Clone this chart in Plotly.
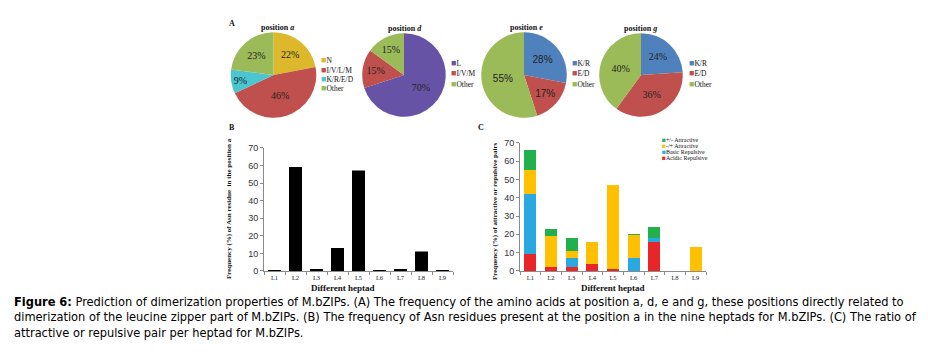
import plotly.graph_objects as go

W, H = 928, 355

# ---------------- data ----------------
pie_a_labels = ["N", "I/V/L/M", "K/R/E/D", "Other"]
pie_a_values = [22, 46, 9, 23]
pie_a_colors = ["#DDB82A", "#C0504D", "#4BC6D0", "#9BBB59"]

pie_d_labels = ["L", "I/V/M", "Other"]
pie_d_values = [70, 15, 15]
pie_d_colors = ["#6753A5", "#C0504D", "#9BBB59"]

pie_e_labels = ["K/R", "E/D", "Other"]
pie_e_values = [28, 17, 55]
pie_e_colors = ["#4F81BD", "#C0504D", "#9BBB59"]

pie_g_labels = ["K/R", "E/D", "Other"]
pie_g_values = [24, 36, 40]
pie_g_colors = ["#4F81BD", "#C0504D", "#9BBB59"]

heptads = ["L1", "L2", "L3", "L4", "L5", "L6", "L7", "L8", "L9"]
asn_freq = [0.3, 59, 1, 13, 57, 0.3, 1, 11, 0.3]

acidic_rep = [9, 2, 2, 4, 1, 0, 16, 0, 0]
basic_rep = [33, 0, 5, 0, 0, 7, 2, 0, 0]
minus_plus_attr = [13, 17, 4, 12, 46, 13, 0, 0, 13]
plus_minus_attr = [11, 4, 7, 0, 0, 0.3, 6, 0, 0]

stack_names = ["Acidic Repulsive", "Basic Repulsive", "-/+ Attractive", "+/- Attractive"]
stack_colors = ["#E8262A", "#29A9E0", "#FFC000", "#21B04B"]

caption_lines = [
    "<b>Figure 6:</b> Prediction of dimerization properties of M.bZIPs. (A) The frequency of the amino acids at position a, d, e and g, these positions directly related to",
    "dimerization of the leucine zipper part of M.bZIPs. (B) The frequency of Asn residues present at the position a in the nine heptads for M.bZIPs. (C) The ratio of",
    "attractive or repulsive pair per heptad for M.bZIPs.",
]

# ---------------- helpers ----------------
def px(x):
    return x / W

def py(y):
    return 1 - y / H

SERIF = "Liberation Serif, Times New Roman, serif"
SANS = "Liberation Sans, Arial, sans-serif"

fig = go.Figure()

pies = [
    (pie_a_labels, pie_a_values, pie_a_colors, 273.5, 72, 44, SERIF),
    (pie_d_labels, pie_d_values, pie_d_colors, 404, 72, 43, SERIF),
    (pie_e_labels, pie_e_values, pie_e_colors, 524, 72, 44, SANS),
    (pie_g_labels, pie_g_values, pie_g_colors, 641, 72, 43, SERIF),
]
for labels, values, colors, cx, cy, r, tf in pies:
    fig.add_trace(go.Pie(
        labels=labels, values=values, sort=False, direction="clockwise", rotation=0,
        marker=dict(colors=colors, line=dict(width=0)),
        texttemplate="%{percent:.0%}", textposition="inside",
        insidetextorientation="horizontal",
        textfont=dict(family=tf, size=10, color="#222"),
        domain=dict(x=[px(cx - r), px(cx + r)], y=[py(cy + r), py(cy - r)]),
        showlegend=False, hoverinfo="label+percent",
    ))

# Bar chart B
fig.add_trace(go.Bar(x=heptads, y=asn_freq, marker=dict(color="#000", line=dict(color="#000", width=0.5)),
                     xaxis="x", yaxis="y", showlegend=False))

# Stacked chart C
for name, vals, col in zip(stack_names, [acidic_rep, basic_rep, minus_plus_attr, plus_minus_attr], stack_colors):
    fig.add_trace(go.Bar(x=heptads, y=vals, name=name, marker=dict(color=col, line=dict(width=0)),
                         xaxis="x2", yaxis="y2", showlegend=False))

axis_common = dict(showline=True, linecolor="#8a8a8a", linewidth=1, showgrid=False, zeroline=False,
                   ticks="outside", tickcolor="#8a8a8a", ticklen=3)
fig.update_layout(
    width=W, height=H, margin=dict(l=0, r=0, t=0, b=0),
    paper_bgcolor="white", plot_bgcolor="white",
    barmode="stack", bargap=0.42,
    xaxis=dict(domain=[px(264), px(453)], anchor="y", tickson="boundaries",
               tickfont=dict(family=SERIF, size=6.5, color="#222"), **axis_common),
    yaxis=dict(domain=[py(273.7), py(147)], anchor="x", range=[0, 70], dtick=10,
               tickfont=dict(family=SANS, size=9, color="#333"), **axis_common),
    xaxis2=dict(domain=[px(520), px(706)], anchor="y2", tickson="boundaries",
                tickfont=dict(family=SERIF, size=6.5, color="#222"), **axis_common),
    yaxis2=dict(domain=[py(273.7), py(141.7)], anchor="x2", range=[0, 70], dtick=10,
                tickfont=dict(family=SANS, size=9, color="#333"), **axis_common),
)

ann = []

def text(x, y, t, size=8, family=SERIF, xanchor="center", angle=0, color="#111"):
    ann.append(dict(x=px(x), y=py(y), xref="paper", yref="paper", text=t, showarrow=False,
                    xanchor=xanchor, yanchor="middle", textangle=angle,
                    font=dict(family=family, size=size, color=color)))

# panel labels
text(232, 19, "<b>A</b>", 8)
text(232, 126, "<b>B</b>", 8)
text(481, 126, "<b>C</b>", 8)

# pie titles
text(277, 23, "<b>position <i>a</i></b>", 8)
text(405, 24, "<b>position <i>d</i></b>", 8)
text(526, 23, "<b>position <i>e</i></b>", 8)
text(640, 24, "<b>position <i>g</i></b>", 8)

# pie legends
def legend(x, ys, labels, colors, size=8, sq=9):
    for y, lab, col in zip(ys, labels, colors):
        text(x, y, f"<span style='color:{col};font-size:{sq}px'>■</span>{lab}", size, SERIF, xanchor="left")

legend(319, [57, 66.5, 76, 85], pie_a_labels, pie_a_colors, size=7.5)
legend(449, [60, 70, 81], pie_d_labels, pie_d_colors, size=7.5)
legend(570, [60, 70, 81], pie_e_labels, pie_e_colors, size=7.5)
legend(687, [60, 70, 81], pie_g_labels, pie_g_colors, size=7.5)

# chart C legend (top to bottom)
legend(660, [138.5, 144.5, 150.5, 156.5], stack_names[::-1], stack_colors[::-1], size=6, sq=6.5)

# axis titles
text(229, 210, "<b>Frequency (%) of Asn residue  in the position a</b>", 7, angle=-90)
text(343, 291, "<b>Different heptad</b>", 9)
text(495, 212, "<b>Frequency (%) of attractive or repulsive pairs</b>", 7, angle=-90)
text(613, 291, "<b>Different heptad</b>", 9)

# caption
CAP = "DejaVu Sans Condensed, Liberation Sans Narrow, sans-serif"
for i, line in enumerate(caption_lines):
    text(12, 305 + 16 * i, line, 12.7, CAP, xanchor="left", color="#000")

fig.update_layout(annotations=ann)
fig.write_html("out.html", config={"displayModeBar": False},
               post_script="document.body.style.margin='0';")
